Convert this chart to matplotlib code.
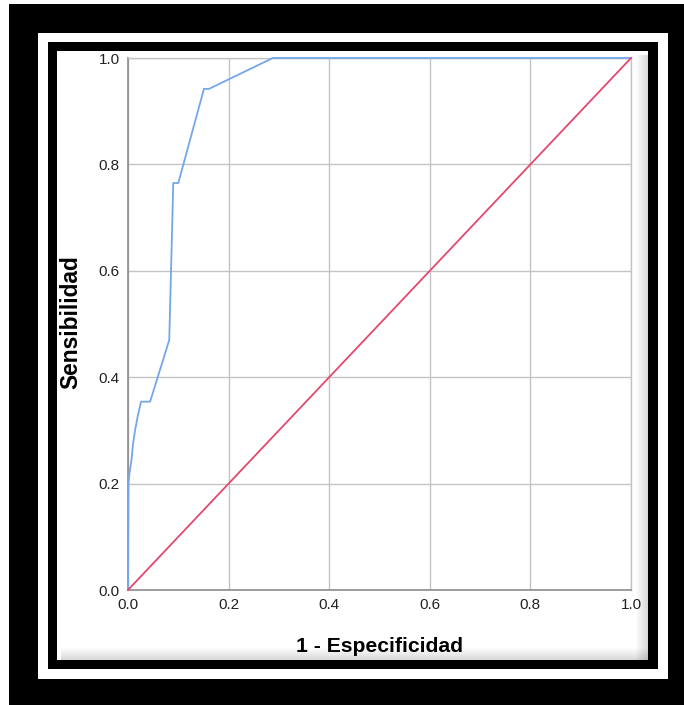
import matplotlib
matplotlib.use("Agg")
import matplotlib.pyplot as plt
from matplotlib.patches import Rectangle

# ROC curve
fpr = [0.0, 0.001, 0.003, 0.007, 0.010, 0.014, 0.020, 0.026, 0.044, 0.082,
       0.090, 0.100, 0.151, 0.161, 0.288, 1.0]
tpr = [0.0, 0.200, 0.220, 0.245, 0.275, 0.300, 0.330, 0.354, 0.354, 0.470,
       0.765, 0.765, 0.942, 0.942, 1.0, 1.0]
ref_x = [0.0, 1.0]
ref_y = [0.0, 1.0]
ticks = [0.0, 0.2, 0.4, 0.6, 0.8, 1.0]
tick_labels = ["0.0", "0.2", "0.4", "0.6", "0.8", "1.0"]

W, H = 684, 705
COLORS = {"roc": "#74a7ea", "ref": "#e5486e", "grid": "#c4c4c4", "spine": "#8c8c8c"}

plt.rcParams["font.family"] = ["Liberation Sans", "DejaVu Sans"]

fig = plt.figure(figsize=(W / 100, H / 100), dpi=100)
fig.patch.set_facecolor("white")


def box(x0, y0, x1, y1, color, alpha=1.0, z=0):
    fig.add_artist(Rectangle((x0 / W, 1 - y1 / H), (x1 - x0) / W, (y1 - y0) / H,
                             transform=fig.transFigure, facecolor=color,
                             edgecolor="none", alpha=alpha, zorder=z))


# frames
box(9, 4, 684, 705, "black", z=-5)
box(38, 33, 668, 679, "white", z=-4)
box(48, 42, 658, 669, "black", z=-3)
box(57, 51, 648, 660, "white", z=-2)
# soft shadow along right and bottom of inner panel
n = 12
for i in range(n):
    a = 0.05 * (i + 1) / n * 3.0
    box(648 - (n - i), 51 + 4, 648 - (n - i) + 1, 660, "black", alpha=a, z=-1)
    box(57 + 4, 660 - (n - i), 648, 660 - (n - i) + 1, "black", alpha=a, z=-1)

ax = fig.add_axes([128 / W, 1 - 590 / H, 503 / W, 532 / H])
ax.set_facecolor("white")
ax.plot(fpr, tpr, color=COLORS["roc"], linewidth=1.3, zorder=3, clip_on=False)
ax.plot(ref_x, ref_y, color=COLORS["ref"], linewidth=1.3, zorder=3, clip_on=False)

ax.set_xlim(0, 1)
ax.set_ylim(0, 1)
ax.set_xticks(ticks, tick_labels)
ax.set_yticks(ticks, tick_labels)
ax.grid(True, color=COLORS["grid"], linewidth=1.0, zorder=1)
ax.set_axisbelow(True)
ax.tick_params(length=0, labelsize=11, colors="#222222", pad=6)
for side in ["left", "bottom"]:
    ax.spines[side].set_color(COLORS["spine"])
    ax.spines[side].set_linewidth(1.2)
for side in ["top", "right"]:
    ax.spines[side].set_color(COLORS["grid"])
    ax.spines[side].set_linewidth(1.0)

fig.text(380 / W, 1 - 647 / H, "1 - Especificidad", fontsize=15.2, fontweight="bold",
         ha="center", va="center")
fig.text(70.5 / W, 1 - 322.5 / H, "Sensibilidad", fontsize=16.4, fontweight="bold",
         rotation=90, ha="center", va="center")

fig.savefig("out.png", dpi=100)
